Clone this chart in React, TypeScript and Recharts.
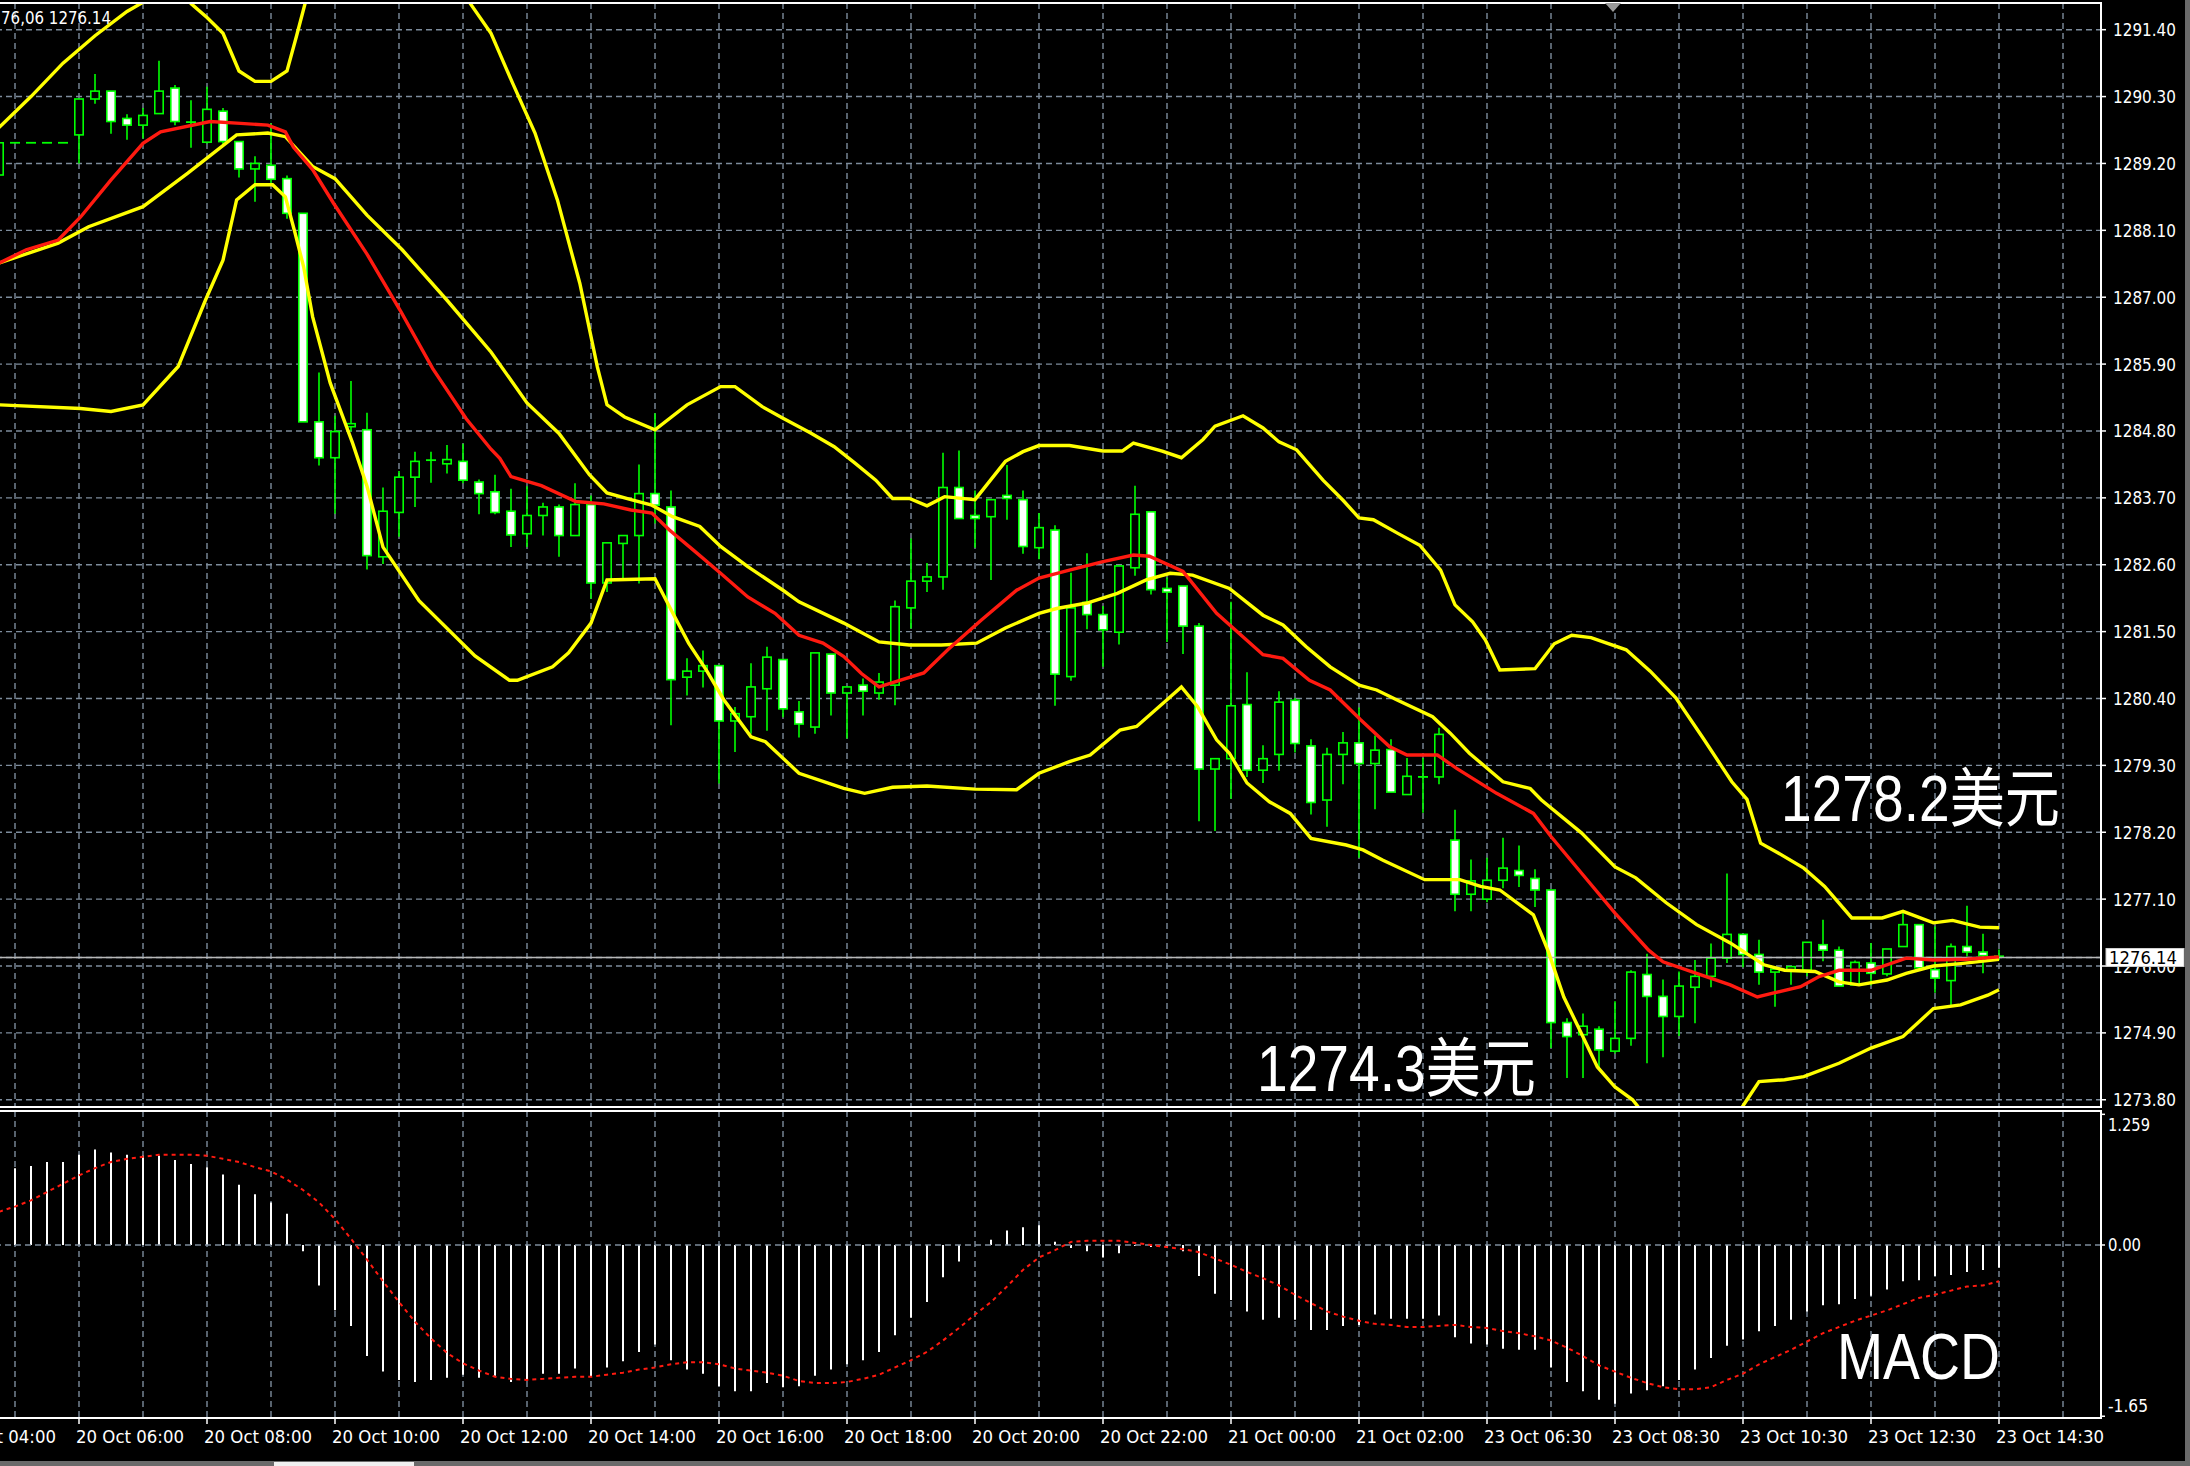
import React from 'react';
import { ComposedChart, Bar, Line, XAxis, YAxis, CartesianGrid, ReferenceLine } from 'recharts';

// ---------- DATA (15-minute bars, index 0 = 20 Oct 04:45) ----------
// [open, high, low, close]
const candles: [number, number, number, number][] = [
  [1289.01, 1289.54, 1288.64, 1289.54],
  [1289.54, 1289.54, 1289.54, 1289.54],
  [1289.54, 1289.54, 1289.54, 1289.54],
  [1289.54, 1289.54, 1289.54, 1289.54],
  [1289.54, 1289.54, 1289.54, 1289.54],
  [1289.67, 1290.26, 1289.20, 1290.26],
  [1290.26, 1290.67, 1290.18, 1290.39],
  [1290.39, 1290.39, 1289.69, 1289.89],
  [1289.94, 1290.01, 1289.59, 1289.83],
  [1289.83, 1290.11, 1289.61, 1289.99],
  [1290.02, 1290.89, 1290.02, 1290.39],
  [1290.44, 1290.49, 1289.83, 1289.89],
  [1289.88, 1290.24, 1289.46, 1289.87],
  [1289.55, 1290.46, 1289.53, 1290.09],
  [1290.06, 1290.11, 1289.52, 1289.56],
  [1289.56, 1289.56, 1288.97, 1289.11],
  [1289.11, 1289.32, 1288.57, 1289.20],
  [1289.17, 1289.86, 1288.88, 1288.94],
  [1288.95, 1289.00, 1288.29, 1288.38],
  [1288.38, 1288.38, 1284.95, 1284.95],
  [1284.95, 1285.76, 1284.23, 1284.36],
  [1284.36, 1285.05, 1283.44, 1284.79],
  [1284.87, 1285.62, 1284.79, 1284.92],
  [1284.82, 1285.10, 1282.52, 1282.75],
  [1282.73, 1283.87, 1282.61, 1283.48],
  [1283.46, 1284.14, 1283.06, 1284.04],
  [1284.04, 1284.46, 1283.55, 1284.30],
  [1284.32, 1284.46, 1283.95, 1284.31],
  [1284.26, 1284.57, 1284.10, 1284.33],
  [1284.30, 1284.59, 1283.94, 1283.99],
  [1283.96, 1284.00, 1283.43, 1283.77],
  [1283.80, 1284.08, 1283.43, 1283.46],
  [1283.48, 1283.85, 1282.89, 1283.09],
  [1283.11, 1283.89, 1282.89, 1283.41],
  [1283.41, 1283.62, 1283.08, 1283.55],
  [1283.55, 1283.59, 1282.73, 1283.08],
  [1283.08, 1283.94, 1283.08, 1283.59],
  [1283.59, 1283.74, 1282.04, 1282.30],
  [1282.30, 1282.96, 1282.15, 1282.96],
  [1282.95, 1283.08, 1282.34, 1283.08],
  [1283.08, 1284.25, 1282.29, 1283.77],
  [1283.77, 1285.09, 1283.28, 1283.58],
  [1283.55, 1283.82, 1279.96, 1280.71],
  [1280.75, 1281.06, 1280.45, 1280.85],
  [1280.85, 1281.19, 1280.58, 1280.94],
  [1280.94, 1280.94, 1279.00, 1280.03],
  [1280.03, 1280.26, 1279.52, 1280.15],
  [1280.10, 1280.98, 1279.82, 1280.59],
  [1280.56, 1281.25, 1279.87, 1281.08],
  [1281.04, 1281.04, 1280.09, 1280.23],
  [1280.18, 1280.36, 1279.76, 1279.98],
  [1279.93, 1281.15, 1279.82, 1281.15],
  [1281.13, 1281.13, 1280.12, 1280.49],
  [1280.49, 1280.59, 1279.74, 1280.59],
  [1280.62, 1280.73, 1280.12, 1280.52],
  [1280.49, 1280.82, 1280.38, 1280.67],
  [1280.62, 1282.01, 1280.29, 1281.91],
  [1281.89, 1283.03, 1281.55, 1282.33],
  [1282.33, 1282.63, 1282.15, 1282.40],
  [1282.40, 1284.44, 1282.19, 1283.87],
  [1283.87, 1284.48, 1283.36, 1283.36],
  [1283.41, 1283.82, 1282.88, 1283.36],
  [1283.39, 1283.67, 1282.35, 1283.67],
  [1283.74, 1284.24, 1283.34, 1283.69],
  [1283.67, 1283.82, 1282.78, 1282.90],
  [1282.88, 1283.45, 1282.69, 1283.21],
  [1283.17, 1283.25, 1280.28, 1280.80],
  [1280.76, 1282.47, 1280.69, 1281.89],
  [1281.98, 1282.79, 1281.54, 1281.78],
  [1281.78, 1281.92, 1280.92, 1281.53],
  [1281.49, 1282.58, 1281.29, 1282.58],
  [1282.55, 1283.90, 1282.42, 1283.43],
  [1283.47, 1283.47, 1282.11, 1282.19],
  [1282.21, 1282.39, 1281.33, 1282.15],
  [1282.25, 1282.25, 1281.13, 1281.59],
  [1281.59, 1281.64, 1278.38, 1279.24],
  [1279.24, 1279.41, 1278.22, 1279.41],
  [1279.41, 1281.99, 1278.75, 1280.28],
  [1280.30, 1280.83, 1279.11, 1279.22],
  [1279.22, 1279.63, 1279.01, 1279.41],
  [1279.48, 1280.52, 1279.21, 1280.34],
  [1280.37, 1280.41, 1279.51, 1279.66],
  [1279.62, 1279.73, 1278.49, 1278.69],
  [1278.73, 1279.59, 1278.29, 1279.48],
  [1279.48, 1279.85, 1278.99, 1279.67],
  [1279.67, 1280.25, 1277.78, 1279.33],
  [1279.33, 1279.79, 1278.58, 1279.55],
  [1279.56, 1279.73, 1278.86, 1278.86],
  [1278.82, 1279.42, 1278.82, 1279.12],
  [1279.11, 1279.42, 1278.52, 1279.11],
  [1279.11, 1279.92, 1278.99, 1279.81],
  [1278.07, 1278.57, 1276.90, 1277.18],
  [1277.18, 1277.75, 1276.90, 1277.40],
  [1277.10, 1277.78, 1277.05, 1277.41],
  [1277.41, 1278.11, 1277.28, 1277.61],
  [1277.57, 1277.98, 1277.30, 1277.49],
  [1277.44, 1277.59, 1276.97, 1277.25],
  [1277.25, 1277.25, 1274.65, 1275.07],
  [1275.07, 1275.14, 1274.16, 1274.84],
  [1274.87, 1275.22, 1274.16, 1275.01],
  [1274.96, 1275.01, 1274.29, 1274.62],
  [1274.60, 1275.42, 1274.56, 1274.81],
  [1274.81, 1275.93, 1274.69, 1275.90],
  [1275.86, 1276.20, 1274.40, 1275.50],
  [1275.50, 1275.78, 1274.50, 1275.17],
  [1275.17, 1275.91, 1274.85, 1275.67],
  [1275.65, 1276.10, 1275.06, 1275.83],
  [1275.83, 1276.37, 1275.65, 1276.13],
  [1276.13, 1277.52, 1276.05, 1276.52],
  [1276.52, 1276.52, 1275.98, 1276.19],
  [1276.19, 1276.43, 1275.69, 1275.90],
  [1275.90, 1275.95, 1275.33, 1275.95],
  [1275.94, 1275.99, 1275.69, 1275.99],
  [1275.93, 1276.39, 1275.83, 1276.39],
  [1276.35, 1276.76, 1276.08, 1276.26],
  [1276.26, 1276.32, 1275.67, 1275.67],
  [1275.69, 1276.09, 1275.69, 1276.06],
  [1276.05, 1276.38, 1275.68, 1275.88],
  [1275.87, 1276.28, 1275.83, 1276.28],
  [1276.32, 1276.87, 1276.32, 1276.68],
  [1276.68, 1276.68, 1275.94, 1275.97],
  [1275.94, 1276.65, 1275.56, 1275.80],
  [1275.76, 1276.37, 1275.36, 1276.32],
  [1276.32, 1276.99, 1276.16, 1276.23],
  [1276.23, 1276.53, 1275.88, 1276.17],
  [1276.16, 1276.27, 1276.10, 1276.14],
];

// Bollinger upper band [bar, price] (values above 1291.8 are off the chart top)
const upperBand: [number, number][] = [
  [0, 1289.79], [2, 1290.30], [4, 1290.85], [6, 1291.30], [8, 1291.70], [9, 1291.85], [10, 1292.30],
  [11, 1292.30], [12, 1291.83], [13, 1291.60], [14, 1291.34], [15, 1290.72], [16, 1290.55],
  [17, 1290.55], [18, 1290.72], [18.6, 1291.30], [19.2, 1291.90], [20, 1292.80], [28, 1293.00],
  [29.4, 1291.85], [30.75, 1291.34], [32.1, 1290.52], [33.5, 1289.70], [34.9, 1288.60],
  [36.3, 1287.23], [37.4, 1285.85], [38, 1285.23], [39.1, 1285.03], [41, 1284.82], [43, 1285.23],
  [45.1, 1285.53], [46, 1285.53], [47.7, 1285.20], [49, 1285.01], [50.7, 1284.77], [52.2, 1284.54],
  [53.5, 1284.27], [54.8, 1283.99], [55.85, 1283.69], [56.9, 1283.69], [58, 1283.57], [59.1, 1283.72],
  [61, 1283.67], [62.9, 1284.30], [64, 1284.46], [65, 1284.56], [66.9, 1284.56], [69, 1284.47],
  [70.2, 1284.47], [70.9, 1284.60], [72.7, 1284.47], [73.9, 1284.36], [75.25, 1284.66], [76, 1284.88],
  [77.75, 1285.05], [79, 1284.85], [80, 1284.62], [81.1, 1284.49], [82.75, 1283.99], [84, 1283.66],
  [85, 1283.37], [85.9, 1283.34], [87.4, 1283.12], [88.8, 1282.92], [90.1, 1282.51], [91, 1281.94],
  [92.1, 1281.66], [92.9, 1281.36], [93.8, 1280.87], [96, 1280.89], [97.2, 1281.30], [98.3, 1281.44],
  [99.5, 1281.40], [101.7, 1281.20], [103.2, 1280.85], [104.8, 1280.41], [106.5, 1279.75],
  [108.3, 1279.03], [109.25, 1278.74], [110.1, 1278.02], [111.2, 1277.86], [112.8, 1277.61],
  [114.1, 1277.31], [115.8, 1276.79], [117.7, 1276.79], [119, 1276.90], [120.9, 1276.71],
  [122.1, 1276.75], [123.8, 1276.64], [125, 1276.63],
];

// Bollinger middle line [bar, price]
const middleBand: [number, number][] = [
  [0, 1287.56], [3.7, 1287.89], [5.6, 1288.16], [9, 1288.49], [11.8, 1289.04], [14.85, 1289.67],
  [16.8, 1289.70], [17.9, 1289.64], [19.6, 1289.15], [21, 1288.95], [23, 1288.35], [25.2, 1287.78],
  [28, 1286.95], [30.75, 1286.10], [33, 1285.26], [35, 1284.76], [36.9, 1284.08], [38, 1283.78],
  [39.5, 1283.67], [40.8, 1283.58], [42.1, 1283.39], [43.8, 1283.23], [45.1, 1282.90], [46.8, 1282.57],
  [49, 1282.18], [50, 1281.99], [52.8, 1281.64], [55, 1281.33], [56.9, 1281.28], [58.9, 1281.28],
  [61.1, 1281.31], [62.9, 1281.56], [65, 1281.80], [66.1, 1281.88], [68, 1281.97], [69.9, 1282.13],
  [71.7, 1282.35], [73.2, 1282.46], [74.6, 1282.43], [76.9, 1282.21], [79, 1281.77], [80.25, 1281.61],
  [81.7, 1281.25], [83.2, 1280.92], [85, 1280.62], [86.1, 1280.54], [87.35, 1280.38], [89.6, 1280.10],
  [90.7, 1279.83], [91.9, 1279.50], [94, 1279.03], [95.7, 1278.92], [96.4, 1278.73], [98.9, 1278.19],
  [101, 1277.63], [102.3, 1277.45], [104.2, 1277.04], [106.1, 1276.68], [108.2, 1276.38],
  [110.3, 1276.02], [111.6, 1275.93], [113.5, 1275.91], [115, 1275.74], [116.25, 1275.69],
  [118, 1275.77], [119.2, 1275.88], [120.9, 1276.00], [122.6, 1276.04], [125, 1276.11],
];

// Bollinger lower band [bar, price] (values below 1273.7 are off the chart bottom)
const lowerBand: [number, number][] = [
  [0, 1285.23], [5.1, 1285.17], [7, 1285.12], [9, 1285.23], [11.2, 1285.86], [12.9, 1286.95],
  [14, 1287.61], [14.85, 1288.60], [16, 1288.85], [17.1, 1288.85], [17.9, 1288.65], [18.5, 1288.06],
  [19.04, 1287.50], [19.6, 1286.68], [20.7, 1285.59], [22.1, 1284.60], [23, 1283.89], [24, 1282.89],
  [26.25, 1282.01], [29.75, 1281.10], [31.9, 1280.70], [32.4, 1280.70], [34.6, 1280.92],
  [35.6, 1281.15], [37, 1281.64], [38, 1282.35], [41, 1282.37], [42.1, 1281.81], [43.1, 1281.31],
  [44.2, 1280.87], [45.3, 1280.38], [47, 1279.77], [47.9, 1279.69], [50, 1279.17], [52.8, 1278.92],
  [54.1, 1278.84], [55.85, 1278.94], [58, 1278.96], [61, 1278.91], [63.6, 1278.90], [65, 1279.17],
  [66.9, 1279.36], [68.2, 1279.47], [70.06, 1279.88], [71.1, 1279.94], [73, 1280.38], [73.9, 1280.59],
  [74.9, 1280.27], [76.1, 1279.72], [76.9, 1279.50], [78, 1279.01], [79.4, 1278.70], [80.7, 1278.51],
  [82, 1278.10], [84.2, 1277.99], [85.25, 1277.91], [86.5, 1277.74], [89.1, 1277.42], [91.3, 1277.42],
  [92.6, 1277.31], [93.8, 1277.25], [95.9, 1276.84], [96.8, 1276.26], [97.8, 1275.49], [98.9, 1274.89],
  [99.9, 1274.34], [101, 1274.01], [102.1, 1273.80], [103, 1273.50], [106, 1273.30], [108.5, 1273.50],
  [109.25, 1273.80], [110, 1274.10], [111.6, 1274.13], [112.8, 1274.18], [115, 1274.40], [117, 1274.65],
  [119, 1274.84], [120.9, 1275.30], [122.6, 1275.36], [124.3, 1275.52], [125, 1275.61],
];

// Red moving average [bar, price]
const redMA: [number, number][] = [
  [0, 1287.56], [1.7, 1287.78], [3.7, 1287.94], [5.1, 1288.32], [7, 1288.93], [9, 1289.53],
  [10.1, 1289.72], [13.2, 1289.89], [15.1, 1289.86], [16.8, 1289.83], [17.9, 1289.72], [18.4, 1289.47],
  [19.6, 1289.10], [20.9, 1288.55], [23, 1287.71], [25.1, 1286.77], [27.1, 1285.83], [29.2, 1285.00],
  [30.75, 1284.50], [31.3, 1284.35], [32, 1284.05], [33.9, 1283.90], [36.05, 1283.64], [37.8, 1283.60],
  [39.5, 1283.50], [40.8, 1283.45], [41.9, 1283.17], [43.4, 1282.84], [45.1, 1282.46], [46.8, 1282.07],
  [48.5, 1281.80], [50, 1281.44], [51.5, 1281.31], [52.8, 1281.09], [53.9, 1280.81], [55, 1280.59],
  [56.1, 1280.68], [57.8, 1280.82], [59.3, 1281.20], [61.4, 1281.69], [63.6, 1282.18], [65, 1282.38],
  [66.9, 1282.51], [69, 1282.65], [70.9, 1282.76], [71.9, 1282.74], [74, 1282.49], [76.1, 1281.80],
  [79, 1281.12], [80.25, 1281.06], [81.9, 1280.70], [83.2, 1280.54], [85.1, 1280.05], [86.9, 1279.61],
  [88, 1279.47], [89.9, 1279.47], [91.1, 1279.25], [93.6, 1278.84], [95.9, 1278.51], [97, 1278.13],
  [98.9, 1277.53], [101, 1276.87], [103.1, 1276.26], [104, 1276.07], [106.1, 1275.88], [108.2, 1275.69],
  [109.9, 1275.49], [110.8, 1275.55], [112.6, 1275.66], [113.7, 1275.82], [115, 1275.93], [117, 1275.93],
  [119.2, 1276.13], [120.9, 1276.10], [123, 1276.11], [125, 1276.15],
];

// MACD histogram (main line) per bar
const macdHist: number[] = [
  0.64, 0.74, 0.76, 0.80, 0.80, 0.87, 0.92, 0.89, 0.87, 0.86, 0.86, 0.82, 0.78, 0.75, 0.68, 0.58,
  0.49, 0.41, 0.30, -0.06, -0.39, -0.63, -0.78, -1.07, -1.22, -1.30, -1.32, -1.30, -1.28, -1.25,
  -1.28, -1.26, -1.32, -1.30, -1.24, -1.24, -1.19, -1.27, -1.18, -1.12, -1.03, -0.96, -1.11, -1.20,
  -1.24, -1.36, -1.41, -1.41, -1.33, -1.37, -1.36, -1.26, -1.20, -1.15, -1.11, -1.03, -0.87, -0.70,
  -0.55, -0.31, -0.16, 0.00, 0.05, 0.14, 0.17, 0.19, 0.03, -0.03, -0.06, -0.12, -0.08, -0.01, -0.02,
  -0.02, -0.06, -0.30, -0.47, -0.53, -0.64, -0.72, -0.70, -0.72, -0.82, -0.82, -0.78, -0.77, -0.67,
  -0.71, -0.71, -0.71, -0.68, -0.89, -0.95, -0.96, -1.00, -1.01, -1.01, -1.18, -1.32, -1.41, -1.49,
  -1.53, -1.43, -1.40, -1.36, -1.30, -1.20, -1.09, -0.97, -0.91, -0.83, -0.78, -0.72, -0.64, -0.58,
  -0.57, -0.52, -0.49, -0.43, -0.35, -0.34, -0.30, -0.29, -0.26, -0.24, -0.22,
];

// MACD signal line per bar
const macdSignal: number[] = [
  0.32, 0.37, 0.43, 0.51, 0.59, 0.67, 0.74, 0.80, 0.83, 0.85, 0.87, 0.87, 0.87, 0.86, 0.83, 0.80,
  0.75, 0.71, 0.63, 0.53, 0.41, 0.25, 0.06, -0.14, -0.35, -0.55, -0.74, -0.90, -1.04, -1.14, -1.21,
  -1.27, -1.29, -1.30, -1.29, -1.28, -1.27, -1.27, -1.25, -1.23, -1.20, -1.18, -1.15, -1.13, -1.13,
  -1.15, -1.19, -1.21, -1.23, -1.26, -1.31, -1.33, -1.33, -1.32, -1.29, -1.25, -1.18, -1.11, -1.03,
  -0.92, -0.80, -0.67, -0.55, -0.40, -0.24, -0.12, -0.05, 0.03, 0.04, 0.04, 0.04, 0.02, 0.00, -0.02,
  -0.04, -0.07, -0.13, -0.19, -0.26, -0.32, -0.39, -0.48, -0.56, -0.64, -0.69, -0.73, -0.76, -0.77,
  -0.79, -0.79, -0.78, -0.77, -0.79, -0.80, -0.83, -0.85, -0.88, -0.92, -0.99, -1.07, -1.16, -1.22,
  -1.28, -1.33, -1.37, -1.39, -1.39, -1.37, -1.30, -1.24, -1.15, -1.08, -1.01, -0.93, -0.85, -0.79,
  -0.73, -0.68, -0.63, -0.57, -0.51, -0.48, -0.44, -0.40, -0.39, -0.35,
];

const priceTicks: number[] = [
  1291.4, 1290.3, 1289.2, 1288.1, 1287.0, 1285.9, 1284.8, 1283.7, 1282.6, 1281.5, 1280.4,
  1279.3, 1278.2, 1277.1, 1276.0, 1274.9, 1273.8,
];
const lastPrice = 1276.14;
const macdTicks: number[] = [1.259, 0, -1.65];
const macdTickLabels: string[] = ['1.259', '0.00', '-1.65'];
const gridBars: number[] = [
  -3, 1, 5, 9, 13, 17, 21, 25, 29, 33, 37, 41, 45, 49, 53, 57, 61, 65, 69, 73, 77, 81, 85, 89,
  93, 97, 101, 105, 109, 113, 117, 121, 125, 129,
];
const timeTickBars: number[] = [-3, 5, 13, 21, 29, 37, 45, 53, 61, 69, 77, 85, 93, 101, 109, 117, 125];
const timeTickLabels: string[] = [
  '20 Oct 04:00', '20 Oct 06:00', '20 Oct 08:00', '20 Oct 10:00', '20 Oct 12:00', '20 Oct 14:00',
  '20 Oct 16:00', '20 Oct 18:00', '20 Oct 20:00', '20 Oct 22:00', '21 Oct 00:00', '21 Oct 02:00',
  '23 Oct 06:30', '23 Oct 08:30', '23 Oct 10:30', '23 Oct 12:30', '23 Oct 14:30',
];
const infoText = '76,06 1276.14';
const highNote = '1278.2美元';
const lowNote = '1274.3美元';
const macdTitle = 'MACD';

// ---------- derived tables ----------
const priceData = candles.map(([o, h, l, c], i) => ({ i, o, h, l, c, range: [l, h] }));
const macdData = macdHist.map((h, i) => ({ i, h, s: macdSignal[i] }));
const toPts = (arr: [number, number][]) => arr.map(([i, v]) => ({ i, v }));
const upperData = toPts(upperBand);
const middleData = toPts(middleBand);
const lowerData = toPts(lowerBand);
const redData = toPts(redMA);

// ---------- styling ----------
const X_DOMAIN: [number, number] = [-3.9375, 131.375];
const PRICE_DOMAIN: [number, number] = [1273.681, 1291.839];
const MACD_DOMAIN: [number, number] = [-1.667, 1.291];
const GRID = '#7d8c9c';
const AXIS_FONT = '"DejaVu Sans", "Liberation Sans", sans-serif';
const BIG_FONT = '"Liberation Sans", Arial, "Noto Sans CJK SC", sans-serif';
const GREEN = '#00ff00';
const YELLOW = '#ffff00';
const RED = '#ff1a10';
const BODY_W = 10;

const Candle = (props: any) => {
  const { x, y, width, height, payload } = props;
  if (!payload || x == null || y == null) return null;
  const { o, h, l, c } = payload;
  const hgt = height || 0;
  const k = h > l ? hgt / (h - l) : 0;
  const yO = y + (h - o) * k;
  const yC = y + (h - c) * k;
  const cx = x + (width || 0) / 2;
  const left = cx - BODY_W / 2;
  const top = Math.min(yO, yC);
  const bot = Math.max(yO, yC);
  const bear = c < o;
  return (
    <g>
      {hgt > 0 && <line x1={cx} x2={cx} y1={y} y2={y + hgt} stroke={GREEN} strokeWidth={1.6} />}
      {bot - top < 1.5 ? (
        <line x1={left} x2={left + BODY_W} y1={top} y2={top} stroke={GREEN} strokeWidth={1.8} />
      ) : (
        <rect x={left + 0.8} y={top} width={BODY_W - 1.6} height={bot - top}
          fill={bear ? '#ffffff' : '#000000'} stroke={GREEN} strokeWidth={1.6} />
      )}
    </g>
  );
};

const PriceTick = (props: any) => {
  const { x, y, payload } = props;
  const v = payload.value;
  if (v === lastPrice) {
    return (
      <g>
        <rect x={x + 5} y={y - 9} width={78} height={18} fill="#ffffff" stroke="#d0d0d0" strokeWidth={1} />
        <text x={x + 8} y={y + 6.5} fill="#000000" fontSize={17} fontFamily={AXIS_FONT}
          textLength={68} lengthAdjust="spacingAndGlyphs">{v.toFixed(2)}</text>
      </g>
    );
  }
  return (
    <g>
      <line x1={x} x2={x + 5} y1={y} y2={y} stroke="#ffffff" strokeWidth={1.5} />
      <text x={x + 12} y={y + 6.5} fill="#ffffff" fontSize={17} fontFamily={AXIS_FONT}
        textLength={63} lengthAdjust="spacingAndGlyphs">{v.toFixed(2)}</text>
    </g>
  );
};

const MacdTick = (props: any) => {
  const { x, y, payload } = props;
  const idx = macdTicks.indexOf(payload.value);
  if (idx < 0) return <g />;
  const label = macdTickLabels[idx];
  const dy = idx === 0 ? 10 : idx === 2 ? -11 : 0;
  const len = label.length === 5 ? (idx === 0 ? 42 : 40) : 33;
  return (
    <g>
      <line x1={x} x2={x + 4} y1={y} y2={y} stroke="#ffffff" strokeWidth={1.5} />
      <text x={x + 7} y={y + dy + 6.5} fill="#ffffff" fontSize={17} fontFamily={AXIS_FONT}
        textLength={len} lengthAdjust="spacingAndGlyphs">{label}</text>
    </g>
  );
};

const TimeTick = (props: any) => {
  const { x, y, payload } = props;
  const idx = timeTickBars.indexOf(payload.value);
  if (idx < 0) return <g />;
  return (
    <g>
      <line x1={x} x2={x} y1={y} y2={y + 6} stroke="#ffffff" strokeWidth={1.5} />
      <text x={x - 3} y={y + 25} fill="#ffffff" fontSize={18} fontFamily={AXIS_FONT}
        textLength={108} lengthAdjust="spacingAndGlyphs">{timeTickLabels[idx]}</text>
    </g>
  );
};

const bandLine = (data: any[], color: string, key: string) => (
  <Line key={key} xAxisId="pts" data={data} dataKey="v" type="linear" stroke={color} strokeWidth={3.4}
    dot={false} activeDot={false} isAnimationActive={false} connectNulls />
);

const hline = (top: number, left: number, width: number, h: number, color: string) => (
  <div style={{ position: 'absolute', top, left, width, height: h, background: color }} />
);

export default function App() {
  return (
    <div style={{ position: 'absolute', left: 0, top: 0, width: 2190, height: 1466, background: '#000000', overflow: 'hidden' }}>
      {/* price pane */}
      <div style={{ position: 'absolute', left: -64, top: 0 }}>
        <ComposedChart width={2254} height={1113} data={priceData}
          margin={{ top: 3, right: 0, bottom: 6, left: 0 }}>
          <CartesianGrid stroke={GRID} strokeDasharray="6 4" strokeWidth={1.4} />
          <XAxis type="number" dataKey="i" domain={X_DOMAIN} allowDataOverflow ticks={gridBars} interval={0} hide />
          <XAxis xAxisId="pts" type="number" dataKey="i" domain={X_DOMAIN} allowDataOverflow hide />
          <YAxis orientation="right" type="number" domain={PRICE_DOMAIN} allowDataOverflow
            ticks={[...priceTicks, lastPrice]} interval={0} width={89} tickSize={0} tickMargin={0}
            axisLine={false} tickLine={false} tick={(p: any) => <PriceTick {...p} />} />
          <ReferenceLine y={lastPrice} stroke="#b8b8b8" strokeWidth={1.5} />
          <Bar dataKey="range" barSize={10} shape={(p: any) => <Candle {...p} />} isAnimationActive={false} />
          {bandLine(upperData, YELLOW, 'up')}
          {bandLine(lowerData, YELLOW, 'lo')}
          {bandLine(middleData, YELLOW, 'mid')}
          {bandLine(redData, RED, 'red')}
        </ComposedChart>
      </div>

      {/* MACD pane */}
      <div style={{ position: 'absolute', left: -64, top: 1111 }}>
        <ComposedChart width={2254} height={351} data={macdData}
          margin={{ top: 0, right: 0, bottom: 0, left: 0 }}>
          <CartesianGrid horizontal={false} stroke={GRID} strokeDasharray="6 4" strokeWidth={1.4} />
          <XAxis type="number" dataKey="i" domain={X_DOMAIN} allowDataOverflow ticks={gridBars} interval={0}
            height={44} tickSize={0} tickMargin={0} axisLine={false} tickLine={false}
            tick={(p: any) => <TimeTick {...p} />} />
          <YAxis orientation="right" type="number" domain={MACD_DOMAIN} allowDataOverflow
            ticks={macdTicks} interval={0} width={89} tickSize={0} tickMargin={0}
            axisLine={false} tickLine={false} tick={(p: any) => <MacdTick {...p} />} />
          <ReferenceLine y={0} stroke={GRID} strokeDasharray="6 4" strokeWidth={1.4} />
          <Bar dataKey="h" barSize={2} fill="#ffffff" isAnimationActive={false} />
          <Line dataKey="s" type="linear" stroke={RED} strokeWidth={2} strokeDasharray="4 4"
            dot={false} activeDot={false} isAnimationActive={false} />
        </ComposedChart>
      </div>

      {/* pane frames */}
      {hline(2, 0, 2102, 2, '#ffffff')}
      {hline(1106, 0, 2102, 2, '#ffffff')}
      {hline(1110, 0, 2102, 2, '#ffffff')}
      {hline(1417, 0, 2102, 2, '#ffffff')}
      <div style={{ position: 'absolute', left: 2100, top: 2, width: 2, height: 1106, background: '#ffffff' }} />
      <div style={{ position: 'absolute', left: 2100, top: 1110, width: 2, height: 309, background: '#ffffff' }} />
      <div style={{ position: 'absolute', left: 2185, top: 0, width: 5, height: 1466, background: '#6a6a6a' }} />
      {hline(1461, 0, 2190, 5, '#6a6a6a')}
      {hline(1462, 274, 140, 4, '#f0f0f0')}

      {/* annotations */}
      <svg width={2190} height={1466} style={{ position: 'absolute', left: 0, top: 0, pointerEvents: 'none' }}>
        <text x={1} y={24} fill="#ffffff" fontSize={17} fontFamily={AXIS_FONT}
          textLength={110} lengthAdjust="spacingAndGlyphs">{infoText}</text>
        <polygon points="1605,3 1621,3 1613,12" fill="#9a9a9a" />
        <text x={1781} y={821} fill="#ffffff" fontSize={64} fontFamily={BIG_FONT}
          textLength={279} lengthAdjust="spacingAndGlyphs">{highNote}</text>
        <text x={1257} y={1091} fill="#ffffff" fontSize={64} fontFamily={BIG_FONT}
          textLength={279} lengthAdjust="spacingAndGlyphs">{lowNote}</text>
        <text x={1837} y={1379} fill="#ffffff" fontSize={64} fontFamily={BIG_FONT}
          textLength={163} lengthAdjust="spacingAndGlyphs">{macdTitle}</text>
      </svg>
    </div>
  );
}
